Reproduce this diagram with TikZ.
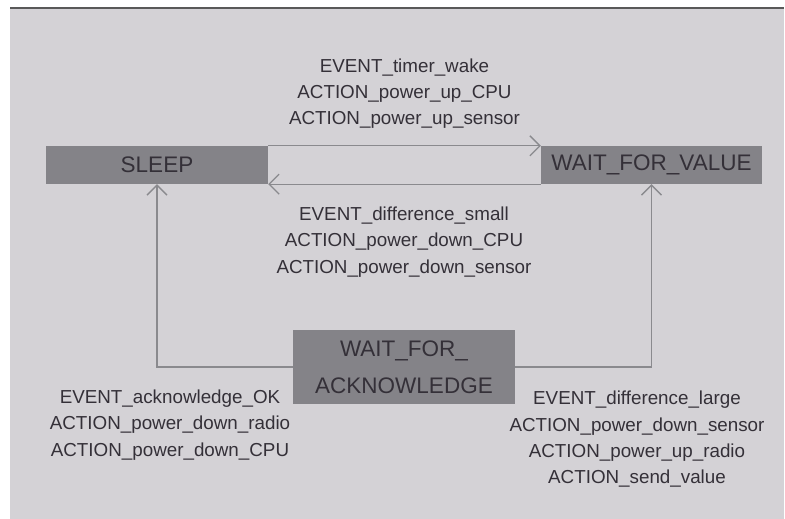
\documentclass[tikz,border=0pt]{standalone}
\usepackage{fontspec}
\setmainfont{Liberation Sans}
\usetikzlibrary{arrows.meta,positioning}
\definecolor{bggrey}{RGB}{212,210,214}
\definecolor{boxgrey}{RGB}{132,131,136}
\definecolor{linegrey}{RGB}{138,138,142}
\definecolor{textgrey}{RGB}{52,48,56}
\tikzset{
  state/.style={fill=boxgrey, text=textgrey, inner sep=0pt, minimum height=38pt,
    align=center, font=\fontsize{22.5}{37}\selectfont},
  eventtext/.style={text=textgrey, inner sep=0pt, align=center,
    font=\fontsize{18.8}{26.3}\selectfont},
  trans/.style={draw=linegrey, line width=1.3pt, -{Straight Barb[length=10pt,width=20pt]}}
}
\begin{document}
\begin{tikzpicture}[x=1pt,y=-1pt]
    \useasboundingbox (0,0) rectangle (785,519);
    %фон
    \fill[bggrey] (10,8) rectangle (784,519);
    \draw[black!65, line width=1.5pt] (10,8) -- (784,8);
    %состояния
    \node[state, minimum width=222pt] (sleep) at (157,165) {SLEEP};
    \node[state, minimum width=221pt] (wfv) at (651.5,165) {WAIT\_FOR\_VALUE};
    \node[state, minimum width=222pt, minimum height=74pt] (wfa) at (404,367) {WAIT\_FOR\_\\ACKNOWLEDGE};
    %переходы
    \draw[trans] (sleep.north east) -- (wfv.north west);
    \draw[trans] (wfv.south west) -- (sleep.south east);
    \draw[trans] (wfa.west) -| (sleep.south);
    \draw[trans] (wfa.east) -| (wfv.south);
    %подписи
    \node[eventtext] (timerwake) at (404.5,93.5) {EVENT\_timer\_wake\\ACTION\_power\_up\_CPU\\ACTION\_power\_up\_sensor};
    \node[eventtext] (diffsmall) at (404,242) {EVENT\_difference\_small\\ACTION\_power\_down\_CPU\\ACTION\_power\_down\_sensor};
    \node[eventtext] (ackok) at (170,425) {EVENT\_acknowledge\_OK\\ACTION\_power\_down\_radio\\ACTION\_power\_down\_CPU};
    \node[eventtext] (difflarge) at (637,439.5) {EVENT\_difference\_large\\ACTION\_power\_down\_sensor\\ACTION\_power\_up\_radio\\ACTION\_send\_value};
\end{tikzpicture}
\end{document}
